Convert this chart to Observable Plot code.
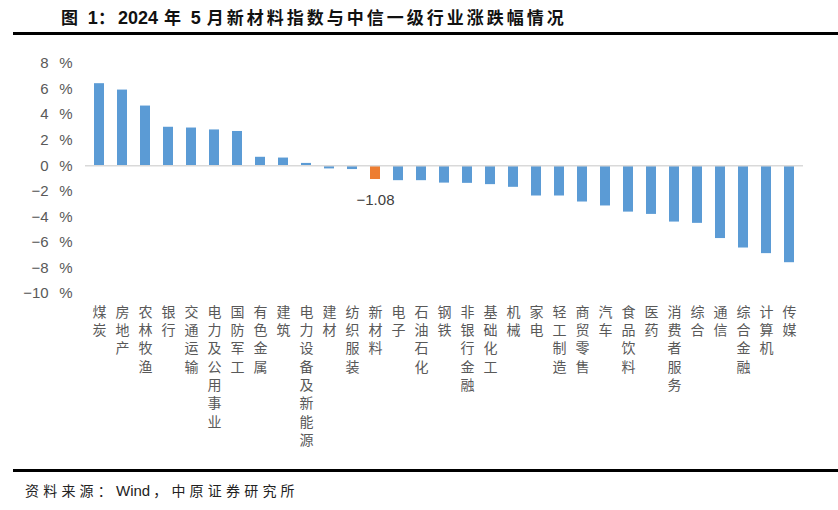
<!DOCTYPE html>
<html>
<head>
<meta charset="utf-8">
<script src="https://cdn.jsdelivr.net/npm/d3@7"></script>
<script src="https://cdn.jsdelivr.net/npm/@observablehq/plot@0.6"></script>
<style>
  html, body { margin: 0; padding: 0; background: #fff; }
  #wrap { position: relative; width: 838px; height: 510px; overflow: hidden; }
  #title { position: absolute; left: 13px; top: 0; width: 825px; height: 32px; border-bottom: 3px solid #000;
           font-family: "Noto Sans CJK SC", sans-serif; font-weight: bold; font-size: 17px;
           line-height: 34px; color: #111; }
  #title span.t { position: absolute; left: 48px; top: 0; white-space: nowrap; letter-spacing: 3px; }
  #title .n { letter-spacing: 0; font-family: "Liberation Sans", Arial, sans-serif; font-size: 18px; }
  #title .s { display: inline-block; width: 6px; }
  #chart { position: absolute; left: 0; top: 36px; }
  #foot { position: absolute; left: 13px; top: 469px; width: 825px; border-top: 3px solid #000;
          font-family: "Noto Sans CJK SC", sans-serif; font-size: 14px; color: #222; }
  #foot span.t { position: absolute; left: 12px; top: 8px; white-space: nowrap; letter-spacing: 4.2px; }
  #foot .n { letter-spacing: 0; font-family: "Liberation Sans", Arial, sans-serif; font-size: 15px; margin-right: 3px; }
</style>
</head>
<body>
<div id="wrap">
  <div id="title"><span class="t">图 <span class="n">1</span>：<span class="n">2024</span><span class="s"></span>年 <span class="n">5</span><span class="s"></span>月新材料指数与中信一级行业涨跌幅情况</span></div>
  <div id="chart"></div>
  <div id="foot"><span class="t">资料来源：<span class="n">Wind</span>，中原证券研究所</span></div>
</div>
<script>
const industries = ["煤炭","房地产","农林牧渔","银行","交通运输","电力及公用事业","国防军工","有色金属","建筑","电力设备及新能源","建材","纺织服装","新材料","电子","石油石化","钢铁","非银行金融","基础化工","机械","家电","轻工制造","商贸零售","汽车","食品饮料","医药","消费者服务","综合","通信","综合金融","计算机","传媒"];
const changes = [6.42,5.92,4.67,3.01,2.95,2.80,2.68,0.66,0.60,0.18,-0.25,-0.30,-1.08,-1.17,-1.17,-1.36,-1.38,-1.48,-1.69,-2.37,-2.37,-2.84,-3.15,-3.63,-3.81,-4.41,-4.51,-5.70,-6.44,-6.88,-7.59];
const highlight = "新材料";
const yTicks = [8,6,4,2,0,-2,-4,-6,-8,-10];

const data = industries.map((name, i) => ({name, value: changes[i]}));
const fmt = d => (d < 0 ? "\u2212" + Math.abs(d) : String(d)) + "\u2002\u2009%";
const fmtLabel = d => (d < 0 ? "\u2212" + Math.abs(d).toFixed(2) : d.toFixed(2));

const chart = Plot.plot({
  width: 838,
  height: 433,
  marginLeft: 85,
  marginRight: 35,
  marginTop: 27,
  marginBottom: 176,
  style: {fontFamily: "'Liberation Sans', Arial, sans-serif", background: "#fff"},
  x: {domain: industries, paddingInner: 0.56, paddingOuter: 0.28, label: null},
  y: {domain: [-10, 8], label: null},
  marks: [
    Plot.axisY({ticks: yTicks, tickFormat: fmt, tickSize: 0, tickPadding: 13, fontSize: 15, fill: "#595959", label: null}),
    Plot.axisX({tickSize: 0, tickPadding: 10, tickFormat: d => d.split("").join("\n"), lineHeight: 1.31,
                fontSize: 14, fill: "#595959", label: null,
                fontFamily: "'Noto Sans CJK SC', sans-serif"}),
    Plot.barY(data, {x: "name", y: "value", fill: d => d.name === highlight ? "#ED7D31" : "#5B9BD5"}),
    Plot.ruleY([0], {stroke: "#d9d9d9", strokeWidth: 1.5}),
    Plot.text(data.filter(d => d.name === highlight), {x: "name", y: "value", text: d => fmtLabel(d.value),
                dy: 21, fontSize: 15, fill: "#404040", letterSpacing: 1})
  ]
});
document.getElementById("chart").appendChild(chart);
</script>
</body>
</html>
